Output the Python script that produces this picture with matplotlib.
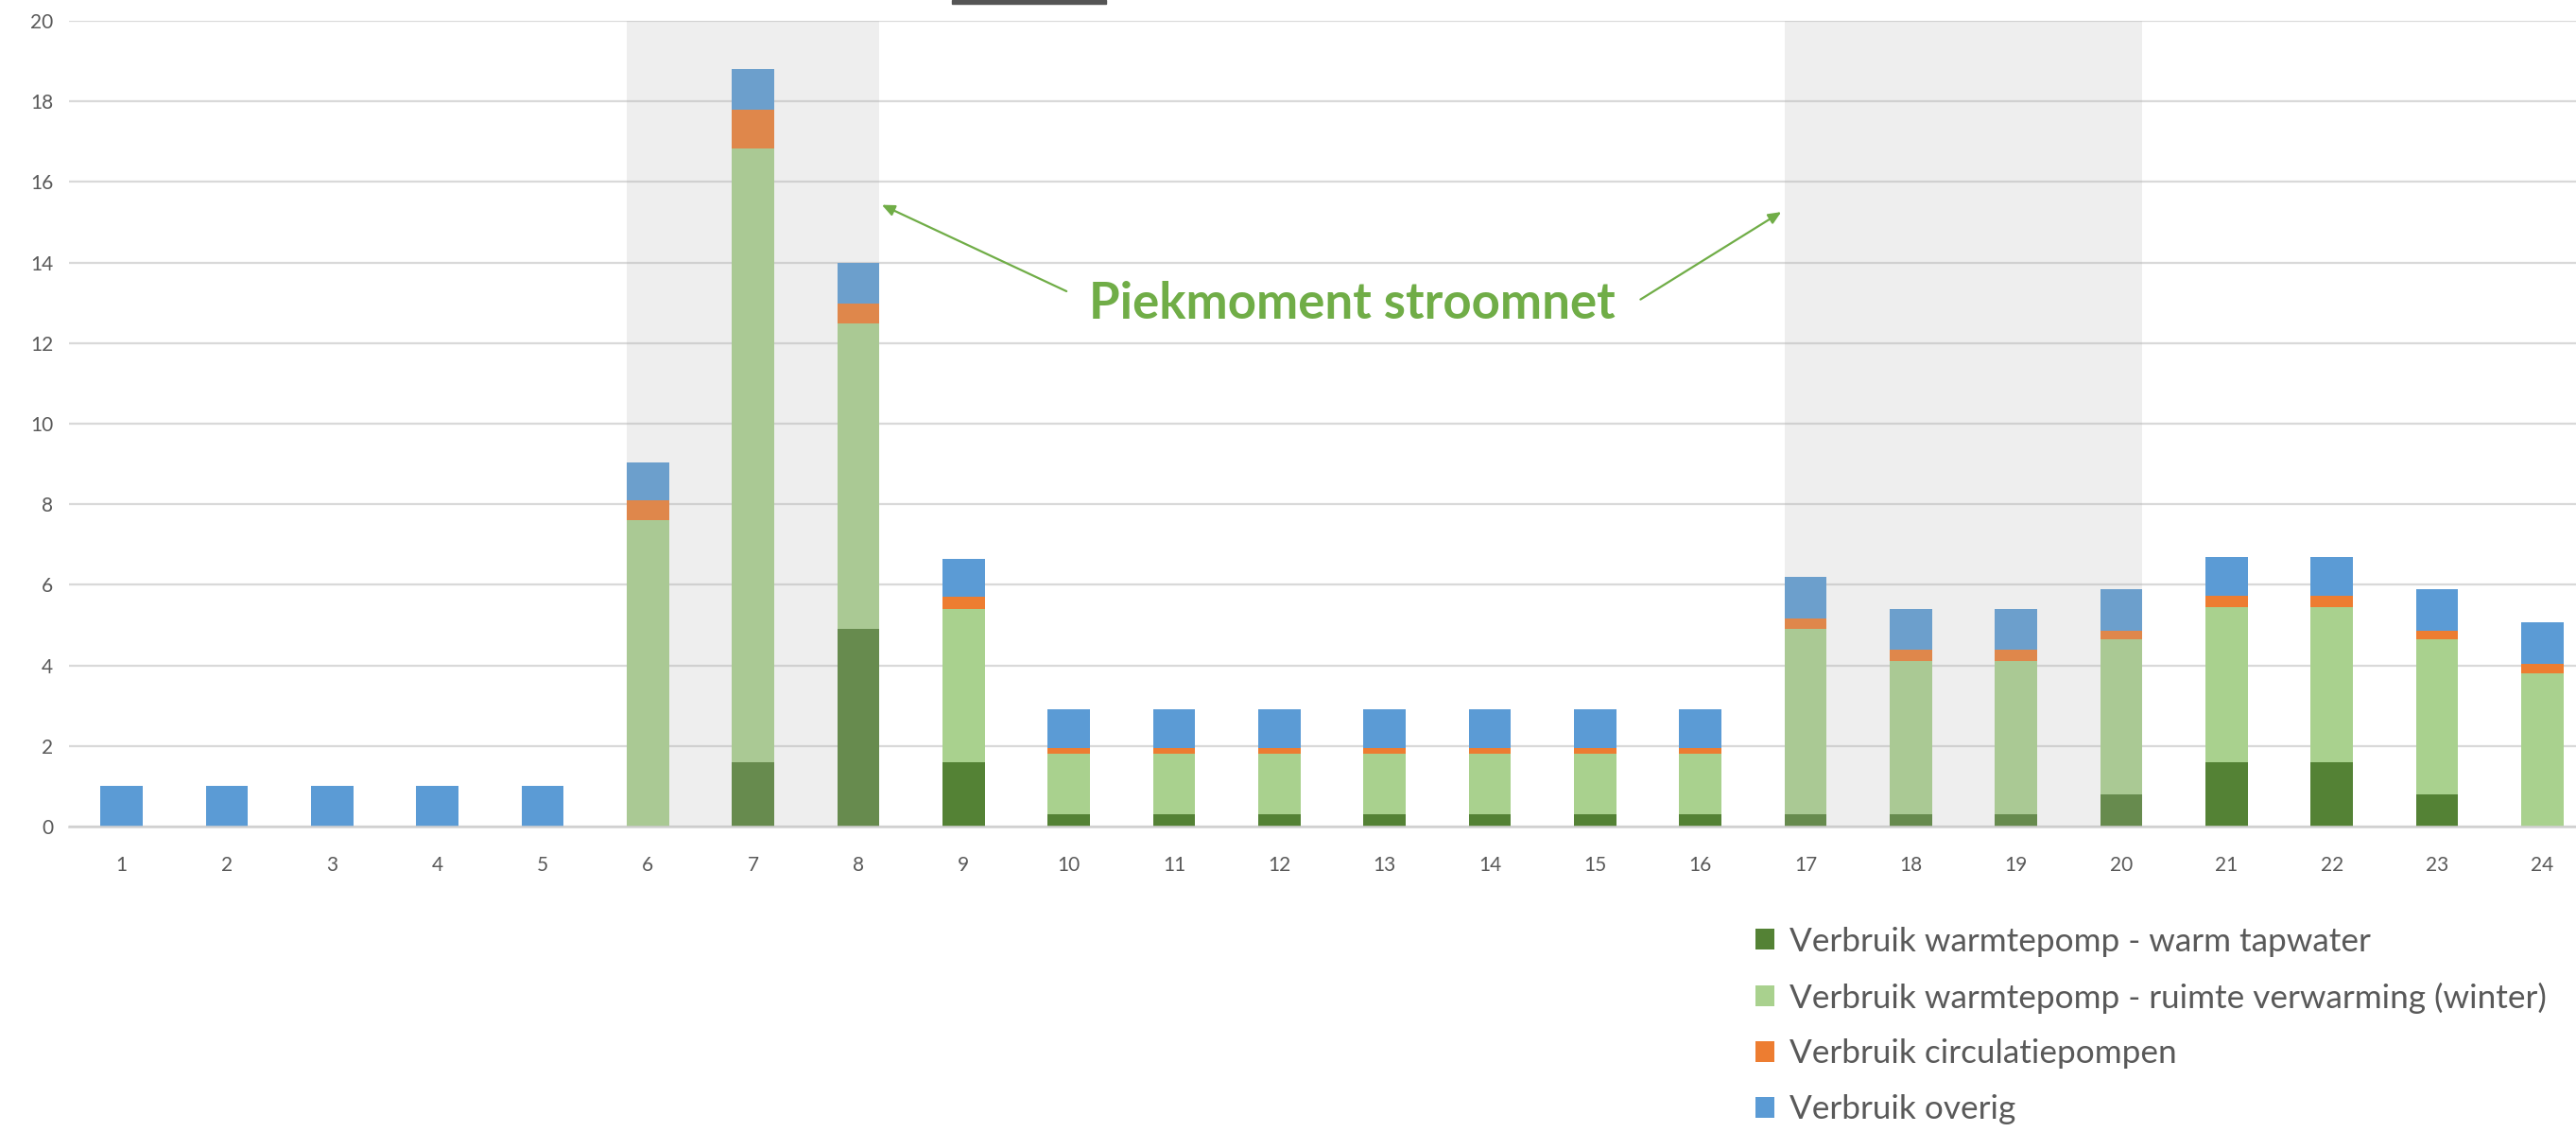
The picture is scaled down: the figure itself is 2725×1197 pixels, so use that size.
#!/usr/bin/env python3
"""Stacked hourly electricity use of a heat pump household, with grid peak hours shaded."""
import matplotlib.pyplot as plt
import numpy as np
from matplotlib.patches import Patch, Rectangle

hours = list(range(1, 25))
tapwater = [0, 0, 0, 0, 0, 0, 1.6, 4.9, 1.6, 0.3, 0.3, 0.3, 0.3, 0.3, 0.3, 0.3,
            0.3, 0.3, 0.3, 0.8, 1.6, 1.6, 0.8, 0]
ruimte = [0, 0, 0, 0, 0, 7.6, 15.24, 7.58, 3.8, 1.52, 1.52, 1.52, 1.52, 1.52, 1.52, 1.52,
          4.6, 3.8, 3.8, 3.86, 3.85, 3.85, 3.86, 3.81]
circulatie = [0, 0, 0, 0, 0, 0.49, 0.96, 0.5, 0.3, 0.12, 0.12, 0.12, 0.12, 0.12, 0.12, 0.12,
              0.26, 0.28, 0.28, 0.21, 0.27, 0.27, 0.21, 0.22]
overig = [1, 1, 1, 1, 1, 0.95, 1.0, 1.0, 0.95, 0.98, 0.98, 0.98, 0.98, 0.98, 0.98, 0.98,
          1.03, 1.01, 1.01, 1.03, 0.97, 0.97, 1.03, 1.03]
labels = ["Verbruik warmtepomp - warm tapwater",
          "Verbruik warmtepomp - ruimte verwarming (winter)",
          "Verbruik circulatiepompen",
          "Verbruik overig"]
colors = ["#548235", "#a9d18e", "#ed7d31", "#5b9bd5"]
peak_blocks = [(6, 8), (17, 20)]

plt.rcParams["font.family"] = ["Lato", "DejaVu Sans"]
TXT = "#595959"

fig = plt.figure(figsize=(27.25, 11.97), dpi=100)
ax = fig.add_axes([0.0268, 0.2698, 0.9732, 0.7118])

x = np.array(hours)
bottom = np.zeros(len(hours))
width = 0.4
for vals, color in zip([tapwater, ruimte, circulatie, overig], colors):
    ax.bar(x, vals, width, bottom=bottom, color=color, zorder=2, linewidth=0)
    bottom += np.array(vals)

# grey peak-hour blocks, drawn over the bars so they look muted like the original
for start, end in peak_blocks:
    ax.axvspan(start - width / 2, end + width / 2, color="#afafaf", alpha=0.21,
               linewidth=0, zorder=3)

ax.set_xlim(0.5, 24.32)
ax.set_ylim(0, 20)
ax.set_xticks(hours)
ax.set_yticks(range(0, 21, 2))
ax.tick_params(axis="both", length=0, labelsize=15, colors=TXT)
ax.tick_params(axis="x", pad=22)
ax.tick_params(axis="y", pad=12)
ax.yaxis.grid(True, color="#d9d9d9", linewidth=1.6, zorder=0)
ax.set_axisbelow(True)
for side in ["top", "right", "left"]:
    ax.spines[side].set_visible(False)
ax.spines["bottom"].set_color("#d0d0d0")
ax.spines["bottom"].set_linewidth(1.8)

green = "#70ad47"
ax.text(12.69, 12.98, "Piekmoment stroomnet", color=green, fontsize=38,
        fontweight="bold", ha="center", va="center", zorder=5)
arrow = dict(arrowstyle="-|>,head_length=0.8,head_width=0.35", color=green, lw=1.6)
ax.annotate("", xy=(8.2, 15.46), xytext=(10.0, 13.26), arrowprops=arrow, zorder=5)
ax.annotate("", xy=(16.79, 15.29), xytext=(15.41, 13.05), arrowprops=arrow, zorder=5)

handles = [Patch(facecolor=c, edgecolor="none") for c in colors]
fig.legend(handles, labels, loc="upper left", bbox_to_anchor=(0.6815, 0.1815),
           frameon=False, fontsize=25.3, labelcolor=TXT, handlelength=0.58,
           handleheight=0.58, handletextpad=0.45, labelspacing=0.76,
           borderaxespad=0, borderpad=0)

# remnant of the cut-off title at the top edge
fig.patches.append(Rectangle((1007 / 2725, 1 - 4 / 1197), 163 / 2725, 4 / 1197,
                             transform=fig.transFigure, color="#555555", zorder=5))

fig.savefig("out.png", dpi=100)
